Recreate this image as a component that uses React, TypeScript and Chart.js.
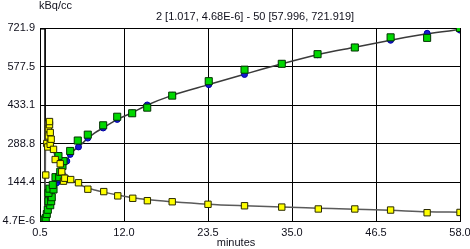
import React, { useEffect, useRef } from 'react';
import { Chart, registerables } from 'chart.js';

Chart.register(...registerables);

// ---- data ----
const titleText = '2 [1.017, 4.68E-6] - 50 [57.996, 721.919]';
const unitLabel = 'kBq/cc';
const xTitle = 'minutes';

const xTickValues = [0.5, 12.0, 23.5, 35.0, 46.5, 58.0];
const yTickLabels = ['4.7E-6', '144.4', '288.8', '433.1', '577.5', '721.9'];
const yMinValue = 4.68e-6;
const yMaxValue = 721.919;

// tissue measurements (green squares)
const greenT = [0.75, 1.017, 1.12, 1.29, 1.43, 1.57, 1.9, 1.66, 2.03, 2.11, 1.66, 1.8, 2.35, 2.25, 2.62, 3.13, 3.27, 3.58, 3.72, 3.03, 4.63, 5.67, 7.04, 9.15, 11.07, 13.12, 15.18, 18.6, 23.6, 28.5, 33.6, 38.5, 43.6, 48.5, 53.5, 57.996];
const greenY = [0, 0.00000468, 5, 11, 26, 42, 59, 74, 74, 89, 105, 121, 118, 135, 164, 164, 184, 206, 224, 243, 262, 301, 323, 358, 390, 403, 424, 469, 523, 566, 588, 624, 649, 687, 685, 721.919];

// fitted tissue values (blue dots)
const blueT = [2.8, 3.03, 4.17, 4.63, 5.77, 7.04, 9.15, 11.07, 13.12, 15.18, 18.6, 23.6, 28.5, 33.6, 38.5, 43.6, 48.5, 53.5, 57.996];
const blueY = [143, 155, 224, 249, 277, 310, 348, 380, 404, 434, 470, 510, 548, 588, 622, 650, 676, 702, 714];

// blood input (yellow squares)
const yellowT = [1.29, 1.43, 1.57, 1.66, 1.66, 1.8, 1.8, 1.9, 1.9, 2.03, 2.35, 2.58, 3.27, 3.48, 3.72, 3.9, 4.7, 5.77, 7.05, 9.23, 11.15, 13.2, 15.2, 18.6, 23.5, 28.5, 33.6, 38.6, 43.6, 48.5, 53.5, 58.0];
const yellowY = [172, 290, 277, 318, 346, 360, 372, 331, 287, 306, 268, 230, 214, 184, 149, 160, 155, 143, 119, 110, 94, 85, 76, 72, 62.5, 57, 52, 45, 45, 41, 31, 32];

// fitted tissue curve
const tissueFitT = [1.2, 1.5, 2.0, 2.5, 2.8, 3.05, 3.5, 4.1, 4.6, 5.2, 5.8, 7.0, 8.0, 9.15, 10.1, 11.1, 13.1, 15.2, 18.6, 23.7, 28.5, 33.6, 38.5, 43.6, 48.5, 53.5, 58.0];
const tissueFitY = [0, 40, 95, 128, 143, 157, 185, 222, 248, 265, 278, 308, 330, 348, 364, 380, 405, 434, 470, 511, 549, 588, 622, 650, 676, 700, 716];

// fitted input curve
const inputFitT = [1.2, 1.25, 1.35, 1.6, 1.9, 2.3, 2.6, 3.0, 3.5, 4.0, 4.8, 5.8, 7.0, 8.0, 9.2, 11.1, 13.2, 15.2, 18.6, 23.5, 28.5, 33.6, 38.6, 43.6, 48.5, 53.5, 58.0];
const inputFitY = [0, 300, 372, 345, 305, 268, 240, 222, 196, 176, 155, 138, 124, 116, 108, 97, 87, 80, 72, 63, 57, 52, 48, 44, 40, 35, 33];

// cursor marker
const cursorT = [0.5, 1.2, 1.2];
const cursorY = [718, 718, 0];

const FONT = '"Liberation Sans", Arial, Helvetica, sans-serif';
const TEXT = '#10101c';

const pts = (xs: number[], ys: number[]) => xs.map((x, i) => ({ x, y: ys[i] }));

const textPlugin = {
  id: 'refTexts',
  afterDraw(chart: any) {
    const ctx = chart.ctx as CanvasRenderingContext2D;
    const a = chart.chartArea;
    const mid = (a.left + a.right) / 2;
    ctx.save();
    ctx.font = '11px ' + FONT;
    ctx.fillStyle = TEXT;
    ctx.textBaseline = 'alphabetic';
    ctx.textAlign = 'left';
    ctx.fillText(unitLabel, a.left - 1, 9);
    ctx.textAlign = 'center';
    ctx.fillText(titleText, mid + 5, 20);
    ctx.fillText(xTitle, mid - 14, 246);
    ctx.restore();
  },
};

export default function App() {
  const ref = useRef<HTMLCanvasElement | null>(null);

  useEffect(() => {
    if (!ref.current) return;
    const chart = new Chart(ref.current, {
      type: 'scatter',
      data: {
        datasets: [
          {
            label: 'input',
            data: pts(yellowT, yellowY),
            pointStyle: 'rect',
            pointRadius: 4.5,
            backgroundColor: '#ffff00',
            borderColor: '#2a2a00',
            borderWidth: 1,
          },
          {
            label: 'tissue',
            data: pts(greenT, greenY),
            pointStyle: 'rect',
            pointRadius: 5,
            backgroundColor: '#00d800',
            borderColor: '#003300',
            borderWidth: 1,
          },
          {
            label: 'fit values',
            data: pts(blueT, blueY),
            pointStyle: 'circle',
            pointRadius: 3,
            backgroundColor: '#1818d0',
            borderColor: '#0000a0',
            borderWidth: 1,
          },
          {
            label: 'tissue fit',
            data: pts(tissueFitT, tissueFitY),
            showLine: true,
            pointRadius: 0,
            borderColor: '#3a3a3a',
            borderWidth: 1.5,
            cubicInterpolationMode: 'monotone',
          },
          {
            label: 'input fit',
            data: pts(inputFitT, inputFitY),
            showLine: true,
            pointRadius: 0,
            borderColor: '#5a5a5a',
            borderWidth: 1.5,
            cubicInterpolationMode: 'monotone',
          },
          {
            label: 'cursor',
            data: pts(cursorT, cursorY),
            showLine: true,
            pointRadius: 0,
            borderColor: '#000000',
            borderWidth: 1,
          },
        ],
      },
      options: {
        responsive: false,
        animation: false,
        events: [],
        devicePixelRatio: 1,
        layout: { padding: { top: 28, right: 10, left: 0, bottom: 0 } },
        plugins: {
          legend: { display: false },
          tooltip: { enabled: false },
          title: { display: false },
        },
        scales: {
          x: {
            type: 'linear',
            min: xTickValues[0],
            max: xTickValues[xTickValues.length - 1],
            afterBuildTicks: (scale: any) => {
              scale.ticks = xTickValues.map((v) => ({ value: v }));
            },
            afterFit: (scale: any) => {
              scale.height = 28;
              scale.paddingLeft = 0;
              scale.paddingRight = 0;
            },
            ticks: {
              autoSkip: false,
              maxRotation: 0,
              padding: 5,
              color: TEXT,
              font: { family: FONT, size: 11 },
              callback: (v: any) => Number(v).toFixed(1),
            },
            grid: { color: '#000000', lineWidth: 1, drawTicks: false },
            border: { display: true, color: '#000000', width: 1 },
          },
          y: {
            type: 'linear',
            min: yMinValue,
            max: yMaxValue,
            afterBuildTicks: (scale: any) => {
              const n = yTickLabels.length - 1;
              scale.ticks = yTickLabels.map((_, i) => ({ value: yMinValue + ((yMaxValue - yMinValue) * i) / n }));
            },
            afterFit: (scale: any) => {
              scale.width = 40;
            },
            ticks: {
              autoSkip: false,
              padding: 5,
              color: TEXT,
              font: { family: FONT, size: 11 },
              callback: (_v: any, i: number) => yTickLabels[i],
            },
            grid: { color: '#000000', lineWidth: 1, drawTicks: false },
            border: { display: true, color: '#000000', width: 1 },
          },
        },
      },
      plugins: [textPlugin],
    } as any);
    return () => chart.destroy();
  }, []);

  return (
    <div style={{ position: 'fixed', left: 0, top: 0, width: 470, height: 249, background: '#ffffff' }}>
      <canvas ref={ref} width={470} height={249} style={{ display: 'block' }} />
    </div>
  );
}
